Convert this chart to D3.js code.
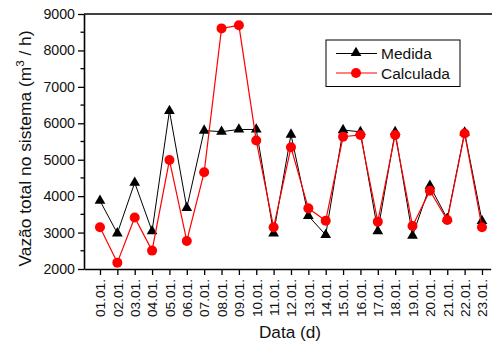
<!DOCTYPE html>
<html>
<head>
<meta charset="utf-8">
<script src="https://cdn.jsdelivr.net/npm/d3@7"></script>
<style>
  body { margin: 0; background: #fff; overflow: hidden; }
  svg { display: block; font-family: "Liberation Sans", Arial, sans-serif; }
</style>
</head>
<body>
<svg id="chart" width="492" height="343"></svg>
<script>
// dias (01.01. ... 23.01.)
const days = d3.range(1, 24);
const dayLabels = days.map(d => String(d).padStart(2, '0') + '.01.');
const medida = [3875, 2980, 4370, 3040, 6340, 3680, 5800, 5770, 5830, 5830, 2980, 5690, 3460, 2935,
  5815, 5765, 3040, 5765, 2915, 4285, 3380, 5750, 3320];
const calculada = [3145, 2175, 3415, 2505, 4990, 2770, 4655, 8605, 8690, 5525, 3145, 5340, 3665, 3325,
  5630, 5680, 3300, 5680, 3180, 4150, 3345, 5720, 3145];
const yTicks = d3.range(2000, 9001, 1000);

const svg = d3.select('#chart');
const mLeft = 84, mTop = 14, mBottom = 269;
const step = 17.364;

const x = d3.scaleLinear().domain([0.08, 23.5]).range([mLeft, mLeft + 23.42 * step]);
const y = d3.scaleLinear().domain([2000, 9000]).range([mBottom, mTop]);

// eixos
const yAxis = d3.axisLeft(y).tickValues(yTicks).tickFormat(d3.format('d'))
  .tickSize(6).tickPadding(3).tickSizeOuter(0);
const gy = svg.append('g').attr('transform', `translate(${mLeft},0)`).call(yAxis);
gy.selectAll('text').attr('font-size', 14.2).attr('fill', '#111');
gy.select('.domain').attr('stroke-width', 1.6);
gy.selectAll('line').attr('stroke-width', 1.3);
// ticks menores
svg.append('g').selectAll('line')
  .data(d3.range(2500, 9000, 1000))
  .enter().append('line')
  .attr('x1', mLeft - 3.5).attr('x2', mLeft)
  .attr('y1', d => y(d)).attr('y2', d => y(d))
  .attr('stroke', '#000').attr('stroke-width', 1.3);

const xAxis = d3.axisBottom(x).tickValues(days).tickFormat((d, i) => dayLabels[i])
  .tickSize(6).tickPadding(4).tickSizeOuter(0);
const gx = svg.append('g').attr('transform', `translate(0,${mBottom})`).call(xAxis);
gx.select('.domain').attr('stroke-width', 1.6);
gx.selectAll('line').attr('stroke-width', 1.3);
gx.selectAll('text')
  .attr('font-size', 13.7).attr('fill', '#111')
  .attr('text-anchor', 'end')
  .attr('transform', 'rotate(-90)')
  .attr('x', -10).attr('y', 0).attr('dy', '0.35em');

// borda superior
svg.append('line').attr('x1', mLeft).attr('x2', 492).attr('y1', mTop).attr('y2', mTop)
  .attr('stroke', '#000').attr('stroke-width', 1.6);

// titulos dos eixos
svg.append('text')
  .attr('x', 290).attr('y', 338)
  .attr('text-anchor', 'middle').attr('font-size', 17.2).attr('fill', '#111')
  .text('Data (d)');
const yl = svg.append('text')
  .attr('transform', 'translate(31,148.5) rotate(-90)')
  .attr('text-anchor', 'middle').attr('font-size', 17.4).attr('fill', '#111');
yl.append('tspan').text('Vazão total no sistema (m');
yl.append('tspan').attr('font-size', 11.5).attr('dy', -7).text('3');
yl.append('tspan').attr('dy', 7).text(' / h)');

const line = d3.line().x((d, i) => x(days[i])).y(d => y(d));
const tri = d3.symbol().type(d3.symbolTriangle).size(50);

// Medida
svg.append('path').attr('d', line(medida)).attr('fill', 'none').attr('stroke', '#000').attr('stroke-width', 1);
svg.append('g').selectAll('path').data(medida).enter().append('path')
  .attr('d', tri)
  .attr('transform', (d, i) => `translate(${x(days[i])},${y(d)})`)
  .attr('fill', '#000');

// Calculada
svg.append('path').attr('d', line(calculada)).attr('fill', 'none').attr('stroke', '#ff0000').attr('stroke-width', 1.2);
svg.append('g').selectAll('circle').data(calculada).enter().append('circle')
  .attr('cx', (d, i) => x(days[i])).attr('cy', d => y(d)).attr('r', 5)
  .attr('fill', '#ff0000');

// legenda
const lg = svg.append('g').attr('transform', 'translate(326,40)');
lg.append('rect').attr('width', 134).attr('height', 46.5)
  .attr('fill', '#fff').attr('stroke', '#000').attr('stroke-width', 1);
lg.append('line').attr('x1', 10).attr('x2', 51).attr('y1', 13.5).attr('y2', 13.5).attr('stroke', '#000');
lg.append('path').attr('d', tri).attr('transform', 'translate(30,13)').attr('fill', '#000');
lg.append('text').attr('x', 55).attr('y', 19).attr('font-size', 15.5).attr('fill', '#111').text('Medida');
lg.append('line').attr('x1', 10).attr('x2', 51).attr('y1', 33).attr('y2', 33).attr('stroke', '#ff0000').attr('stroke-width', 1.2);
lg.append('circle').attr('cx', 30).attr('cy', 33).attr('r', 5).attr('fill', '#ff0000');
lg.append('text').attr('x', 55).attr('y', 38.5).attr('font-size', 15.5).attr('fill', '#111').text('Calculada');
</script>
</body>
</html>
